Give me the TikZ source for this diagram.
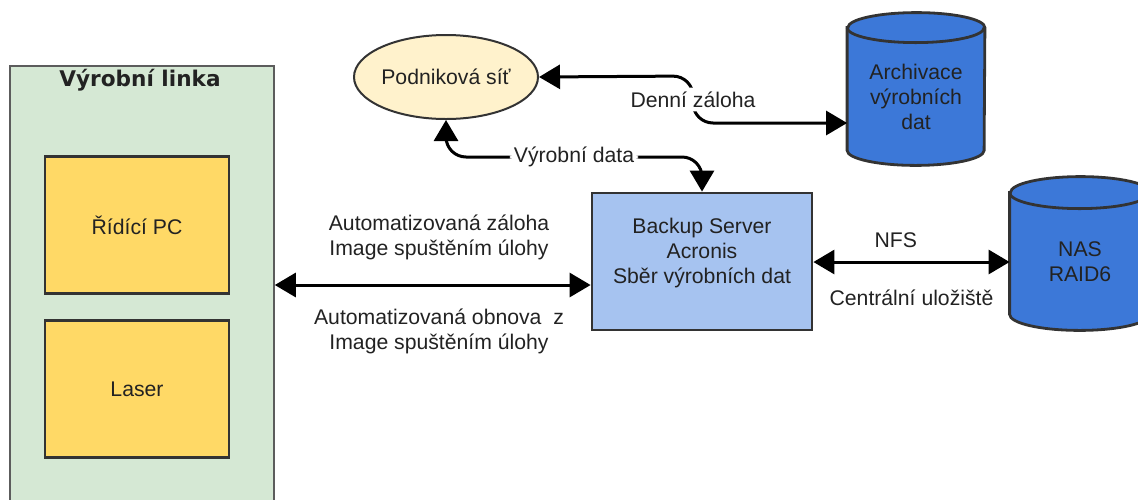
\documentclass[tikz,border=0pt]{standalone}
\usepackage{fontspec}
\setmainfont{Liberation Sans}
\newfontfamily\titlefont{DejaVu Sans}
\usetikzlibrary{shapes.geometric,arrows.meta,backgrounds}

\definecolor{linkafill}{HTML}{D5E8D4}
\definecolor{pcfill}{HTML}{FFD966}
\definecolor{sitfill}{HTML}{FFF2CC}
\definecolor{serverfill}{HTML}{A6C3F0}
\definecolor{diskfill}{HTML}{3C78D8}
\definecolor{edgegray}{HTML}{333333}
\definecolor{textgray}{HTML}{222222}

\begin{document}
\begin{tikzpicture}[x=0.5pt, y=-0.5pt,
	every node/.style={font=\fontsize{10.6}{12.5}\selectfont, text=textgray, align=center},
	box/.style={draw=edgegray, line width=1.4pt, inner sep=0pt},
	disk/.style={inner sep=0pt, minimum height=68.5pt},
	spoj/.style={line width=1.5pt, >={Triangle[length=10.5pt, width=12pt]}, rounded corners=10pt}]

	\clip (0,0) rectangle (1138,499);

	\node (linka) at (142,291)
		[box, draw=edgegray!80, line width=0.8pt, fill=linkafill, minimum width=132pt, minimum height=225pt] {};

	\node (titul) at (140,80)
		[font=\titlefont\bfseries\fontsize{10.8}{12.5}\selectfont] {Výrobní linka};

	\node (pc) at (137,225)
		[box, fill=pcfill, minimum width=92pt, minimum height=68.5pt] {Řídící PC};

	\node (laser) at (137,389)
		[box, fill=pcfill, minimum width=92pt, minimum height=68.5pt] {Laser};

	\node (sit) at (446,77)
		[box, line width=1pt, ellipse, fill=sitfill, minimum width=92pt, minimum height=42pt] {Podniková síť};

	\node (archiv) at (916,96.5)
		[disk, minimum width=68.5pt] {Archivace\\výrobních\\dat};

	\node (backup) at (702,261.5)
		[box, fill=serverfill, minimum width=110pt, minimum height=68.5pt, text depth=11pt] {Backup Server\\Acronis\\Sběr výrobních dat};

	\node (nas) at (1080,261.5)
		[disk, minimum width=70pt] {NAS\\RAID6};

	\begin{scope}[on background layer]
	\foreach \db/\rx/\ry in {archiv/68.5/15, nas/70/16}
	{
		\draw
			[box, fill=diskfill] (\db.north west) -- ([shift={(0,-\ry)}]\db.south west)
			arc [start angle=180, end angle=0, x radius=\rx, y radius=\ry]
			-- (\db.north east)
			arc [start angle=0, end angle=-180, x radius=\rx, y radius=\ry] -- cycle;
		\draw
			[box] (\db.north west)
			arc [start angle=180, end angle=0, x radius=\rx, y radius=\ry];
	}
	\end{scope}

	\draw
		[spoj, <->] (linka.east |- 0,285) -- (backup.west |- 0,285)
		node [pos=0.52, anchor=south, yshift=8.5pt] {Automatizovaná záloha\\Image spuštěním úlohy}
		node [pos=0.52, anchor=north, yshift=-8pt] {Automatizovaná obnova \ z\\Image spuštěním úlohy};

	\draw
		[spoj, <->] (backup.east |- 0,262) -- (nas.west |- 0,262)
		node [pos=0.42, anchor=south, yshift=3pt] {NFS}
		node [pos=0.5, anchor=north, yshift=-10pt] {Centrální uložiště};

	\draw
		[spoj, <->] (sit.south) -- (sit.south |- 0,157) -- node [fill=white, inner sep=2pt] {Výrobní data} (backup.north |- 0,157) -- (backup.north);

	\draw
		[spoj, <->] (sit.east) -- (693,76) -- node [fill=white, inner sep=2pt] {Denní záloha} (693,123) -- (archiv.west |- 0,123);
\end{tikzpicture}
\end{document}
